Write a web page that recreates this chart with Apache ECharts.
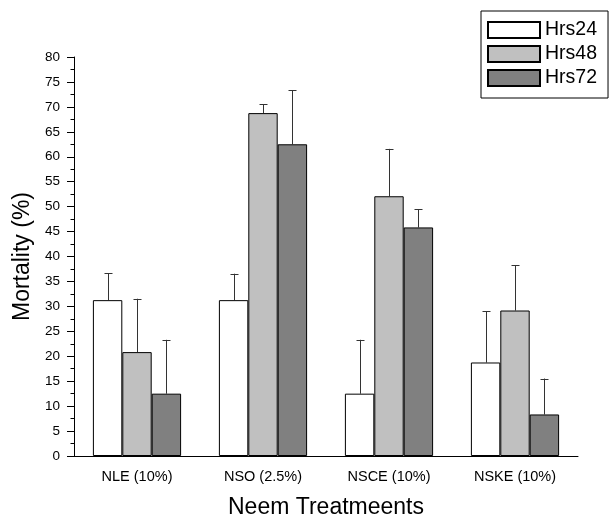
<!DOCTYPE html>
<html>
<head>
<meta charset="utf-8">
<script src="https://cdn.jsdelivr.net/npm/echarts@6/dist/echarts.min.js"></script>
<style>
  html, body { margin: 0; padding: 0; background: #fff; }
  #chart { width: 609px; height: 517px; }
</style>
</head>
<body>
<div id="chart"></div>
<script>
const categories = ['NLE (10%)', 'NSO (2.5%)', 'NSCE (10%)', 'NSKE (10%)']
const seriesNames = ['Hrs24', 'Hrs48', 'Hrs72']
const hrs24 = [31.25, 31.25, 12.5, 18.75]
const hrs48 = [20.83, 68.75, 52.08, 29.17]
const hrs72 = [12.5, 62.5, 45.83, 8.33]
const err24 = [5.4, 5.3, 10.8, 10.3]
const err48 = [10.7, 1.8, 9.5, 9.1]
const err72 = [10.8, 10.8, 3.6, 7.2]
const colors = ['#ffffff', '#c0c0c0', '#808080']

const values = [hrs24, hrs48, hrs72]
const errors = [err24, err48, err72]
const font = 'Liberation Sans, Arial, sans-serif'
const barShare = 0.7 // bars take 70% of a category

const chart = echarts.init(document.getElementById('chart'), null, { renderer: 'canvas' })

function errorSeries (idx) {
  const data = categories.map((c, i) => [i, values[idx][i], errors[idx][i]])
  return {
    type: 'custom',
    name: seriesNames[idx] + ' err',
    xAxisIndex: 0,
    yAxisIndex: 0,
    z: 1,
    silent: true,
    data,
    renderItem (params, api) {
      const cat = api.value(0)
      const top = api.coord([cat, api.value(1)])
      const hi = api.coord([cat, api.value(1) + api.value(2)])
      const barW = api.size([1, 0])[0] * barShare / 3
      const x = Math.round(top[0] + (idx - 1) * barW) + 0.5
      const cap = 4
      const style = { stroke: '#333', lineWidth: 1 }
      return {
        type: 'group',
        children: [
          { type: 'line', shape: { x1: x, y1: top[1], x2: x, y2: hi[1] }, style },
          { type: 'line', shape: { x1: x - cap, y1: Math.round(hi[1]) + 0.5, x2: x + cap, y2: Math.round(hi[1]) + 0.5 }, style }
        ]
      }
    }
  }
}

const option = {
  animation: false,
  textStyle: { fontFamily: font, color: '#000' },
  grid: { left: 74, right: 31, top: 57, bottom: 61, containLabel: false, outerBoundsMode: 'none' },
  legend: {
    data: seriesNames,
    orient: 'vertical',
    left: 481,
    top: 11,
    icon: 'rect',
    itemWidth: 52,
    itemHeight: 16,
    itemGap: 4,
    padding: [9, 11, 10, 6],
    borderColor: '#000',
    borderWidth: 1,
    textStyle: { fontSize: 19.5, fontFamily: font, color: '#000' }
  },
  xAxis: [
    {
      type: 'category',
      data: categories,
      name: 'Neem Treatmeents',
      nameLocation: 'middle',
      nameGap: 40,
      nameTextStyle: { fontSize: 23, fontFamily: font, color: '#000' },
      axisLine: { lineStyle: { color: '#000', width: 1 } },
      axisTick: { alignWithLabel: true, length: 7, lineStyle: { color: '#000' } },
      axisLabel: { fontSize: 14.5, color: '#000', margin: 13 },
      splitLine: { show: false }
    },
    {
      type: 'category',
      data: categories,
      position: 'bottom',
      axisLine: { show: false },
      axisTick: { length: 3, lineStyle: { color: '#000' } },
      axisLabel: { show: false },
      splitLine: { show: false }
    }
  ],
  yAxis: {
    type: 'value',
    min: 0,
    max: 80,
    interval: 5,
    name: 'Mortality (%)',
    nameLocation: 'middle',
    nameGap: 39,
    nameTextStyle: { fontSize: 23, fontFamily: font, color: '#000' },
    axisLine: { show: true, lineStyle: { color: '#000', width: 1 } },
    axisTick: { show: true, length: 7, lineStyle: { color: '#000' } },
    minorTick: { show: true, splitNumber: 2, length: 3.5, lineStyle: { color: '#000' } },
    axisLabel: { fontSize: 13.5, color: '#000', margin: 14 },
    splitLine: { show: false }
  },
  series: [
    ...seriesNames.map((name, idx) => ({
      type: 'bar',
      name,
      data: values[idx],
      xAxisIndex: 0,
      barGap: '0%',
      barCategoryGap: '30%',
      z: 2,
      itemStyle: { color: colors[idx], borderColor: '#000', borderWidth: 1 }
    })),
    ...seriesNames.map((n, idx) => errorSeries(idx))
  ]
}

chart.setOption(option)
window.addEventListener('resize', chart.resize)
</script>
</body>
</html>
